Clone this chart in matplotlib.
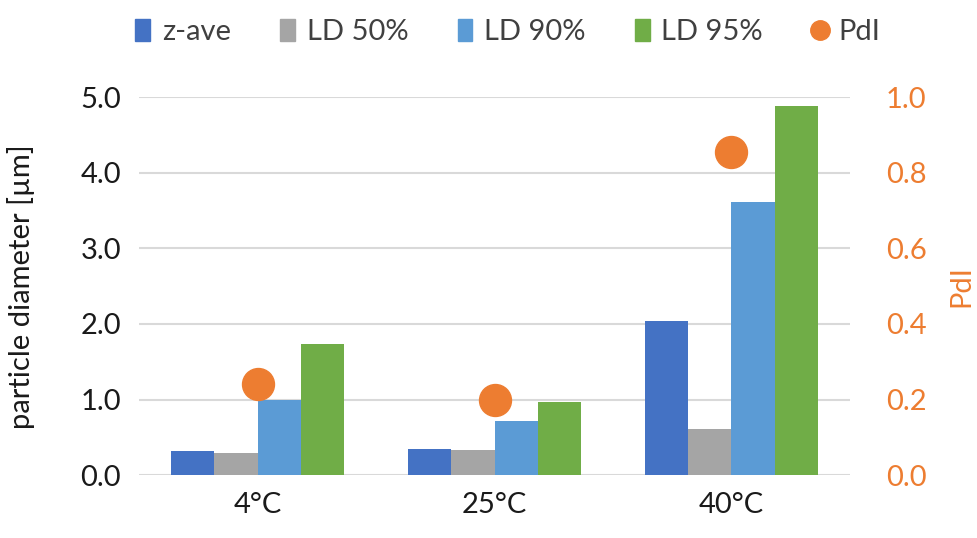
import numpy as np
import matplotlib.pyplot as plt
from matplotlib.patches import Patch
from matplotlib.lines import Line2D

plt.rcParams['font.family'] = ['Lato', 'DejaVu Sans']

# data
temps = ['4°C', '25°C', '40°C']
z_ave = [0.32, 0.34, 2.04]
ld50 = [0.29, 0.33, 0.61]
ld90 = [0.99, 0.72, 3.62]
ld95 = [1.73, 0.97, 4.88]
pdi = [0.24, 0.20, 0.855]

series = [('z-ave', z_ave, '#4472C4'),
          ('LD 50%', ld50, '#A5A5A5'),
          ('LD 90%', ld90, '#5B9BD5'),
          ('LD 95%', ld95, '#70AD47')]
pdi_color = '#ED7D31'
grid_color = '#D9D9D9'

fig = plt.figure(figsize=(9.77, 5.38), dpi=100)
ax = fig.add_axes([0.1423, 0.117, 0.7277, 0.702])

x = np.arange(len(temps))
w = 0.182
for i, (name, vals, col) in enumerate(series):
    ax.bar(x + (i - 1.5) * w, vals, width=w, color=col, zorder=2)

ax.set_xlim(-0.5, len(temps) - 0.5)
ax.set_ylim(0, 5)
ax.set_yticks(np.arange(0, 5.01, 1.0))
ax.set_yticklabels([f'{v:.1f}' for v in np.arange(0, 5.01, 1.0)])
ax.set_xticks(x)
ax.set_xticklabels(temps)
ax.yaxis.grid(True, color=grid_color, linewidth=1.5, zorder=0)
ax.set_axisbelow(True)
for s in ax.spines.values():
    s.set_visible(False)
ax.tick_params(axis='both', length=0, labelsize=21, colors='#1a1a1a')
ax.tick_params(axis='x', pad=12)
ax.tick_params(axis='y', pad=13)
ax.set_ylabel('particle diameter [µm]', fontsize=21, color='#1a1a1a')
ax.yaxis.set_label_coords(-0.147, 0.5)

ax2 = ax.twinx()
ax2.plot(x, pdi, linestyle='none', marker='o', markersize=23,
         color=pdi_color, zorder=3)
ax2.set_ylim(0, 1.0)
ax2.set_yticks(np.arange(0, 1.01, 0.2))
ax2.set_yticklabels([f'{v:.1f}' for v in np.arange(0, 1.01, 0.2)])
for s in ax2.spines.values():
    s.set_visible(False)
ax2.tick_params(axis='y', length=0, labelsize=21, colors=pdi_color, pad=26)
ax2.set_ylabel('PdI', fontsize=21, color=pdi_color)
ax2.yaxis.set_label_coords(1.138, 0.5)

handles = [Patch(color=col, label=name) for name, vals, col in series]
handles.append(Line2D([], [], linestyle='none', marker='o', markersize=14,
                      color=pdi_color, label='PdI'))
fig.legend(handles=handles, loc='center', bbox_to_anchor=(0.52, 0.94),
           ncol=5, frameon=False, fontsize=21, handlelength=0.5,
           handleheight=0.8, handletextpad=0.4, columnspacing=1.7,
           labelcolor='#404040')

fig.savefig('out.png', dpi=100)
